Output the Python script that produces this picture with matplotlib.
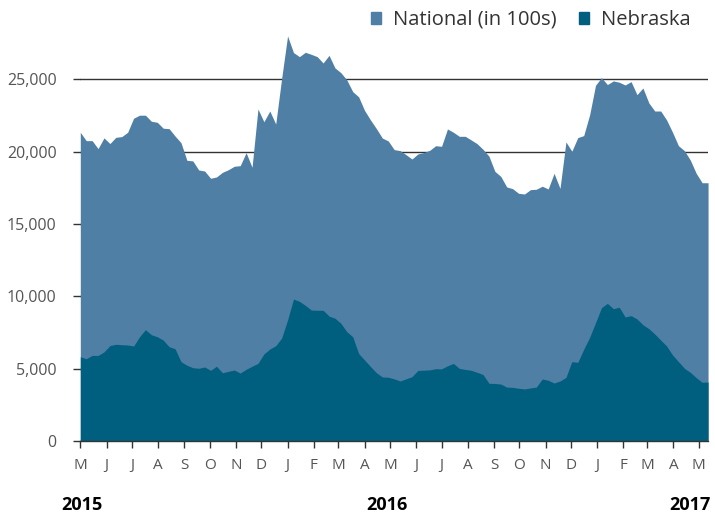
#!/usr/bin/env python3
# weekly flu-like counts, national (in 100s) vs Nebraska, May 2015 - May 2017

import pandas as pd
import matplotlib
matplotlib.use("Agg")
import matplotlib.pyplot as plt
import matplotlib.dates as mdates
from matplotlib.patches import Patch
from matplotlib.ticker import FuncFormatter

# data (one value per week)
start_date = '2015-05-01'
national = [21350, 20770, 20770, 20220, 20960, 20570, 21000, 21050, 21350, 22320,
            22530, 22530, 22110, 22040, 21630, 21600, 21090, 20630, 19410, 19370,
            18740, 18670, 18170, 18260, 18580, 18760, 19000, 19040, 19940, 18930,
            22960, 22080, 22820, 21920, 25080, 28010, 26860, 26580, 26880, 26740,
            26580, 26140, 26670, 25800, 25470, 24970, 24160, 23800, 22860, 22200,
            21600, 20950, 20750, 20150, 20080, 19800, 19500, 19850, 19950, 20100,
            20420, 20380, 21580, 21350, 21070, 21070, 20820, 20560, 20170, 19700,
            18650, 18300, 17570, 17450, 17130, 17080, 17380, 17410, 17620, 17430,
            18510, 17470, 20680, 20040, 20980, 21120, 22550, 24600, 25130, 24650,
            24900, 24810, 24620, 24850, 23950, 24410, 23380, 22820, 22820, 22200,
            21350, 20420, 20080, 19430, 18510, 17860, 17860]
nebraska = [5830, 5690, 5920, 5920, 6160, 6600, 6690, 6660, 6640, 6570,
            7210, 7700, 7350, 7210, 6980, 6520, 6380, 5490, 5240, 5070,
            5030, 5120, 4890, 5170, 4720, 4820, 4910, 4700, 4960, 5170,
            5370, 6020, 6360, 6590, 7120, 8370, 9820, 9660, 9380, 9060,
            9040, 9040, 8640, 8490, 8140, 7560, 7210, 6050, 5600, 5150,
            4720, 4430, 4410, 4300, 4150, 4300, 4450, 4880, 4900, 4920,
            5000, 4990, 5200, 5370, 5020, 4950, 4890, 4750, 4600, 3990,
            3980, 3940, 3730, 3710, 3650, 3600, 3670, 3730, 4290, 4200,
            4010, 4150, 4400, 5490, 5440, 6340, 7170, 8180, 9220, 9520,
            9150, 9250, 8580, 8670, 8440, 8040, 7770, 7400, 6980, 6570,
            5950, 5490, 5030, 4750, 4380, 4060, 4080]
years = ['2015', '2016', '2017']
series_names = ['National (in 100s)', 'Nebraska']

dates = pd.date_range(start_date, periods=len(national), freq='7D')

c_nat = '#4f7fa5'
c_neb = '#005f7e'

plt.rcParams['font.family'] = ['Open Sans', 'DejaVu Sans']

fig = plt.figure(figsize=(7.15, 5.18), dpi=100)
ax = fig.add_axes([0.1123, 0.1486, 0.878, 0.7845])

ax.fill_between(dates, 0, national, color=c_nat, lw=0, zorder=2)
ax.fill_between(dates, 0, nebraska, color=c_neb, lw=0, zorder=3)

ax.set_xlim(dates[0], dates[-1])
ax.set_ylim(0, 28100)
ax.set_yticks(range(0, 25001, 5000))
ax.yaxis.set_major_formatter(FuncFormatter(lambda v, p: f'{int(v):,}'))
ax.grid(axis='y', color='#333333', lw=1.0, zorder=1)
ax.set_axisbelow(True)

ax.xaxis.set_major_locator(mdates.MonthLocator())
ax.xaxis.set_major_formatter(FuncFormatter(lambda v, p: mdates.num2date(v).strftime('%b')[0]))

for s in ['top', 'right', 'left']:
    ax.spines[s].set_visible(False)
ax.spines['bottom'].set_color('#333333')
ax.spines['bottom'].set_linewidth(1.0)
ax.spines['bottom'].set_zorder(5)
ax.tick_params(axis='y', length=5, width=1, color='#333333', pad=12,
               labelsize=11.5, labelcolor='#555555')
ax.tick_params(axis='x', length=5, width=1, color='#333333', pad=7,
               labelsize=11, labelcolor='#555555')

# year labels under the axis
for yr, xpx in zip(years, [82, 387, 690]):
    fig.text(xpx / 715, 1 - 505 / 518, yr, ha='center', va='center',
             fontsize=13, fontweight='bold', color='black')

handles = [Patch(color=c_nat), Patch(color=c_neb)]
fig.legend(handles, series_names, loc='center right', bbox_to_anchor=(0.977, 1 - 20 / 518),
           ncol=2, frameon=False, fontsize=14.5, handlelength=0.5, handleheight=0.5,
           handletextpad=0.6, columnspacing=1.1, labelcolor='#333333', borderaxespad=0)

plt.savefig('out.png', dpi=100)
